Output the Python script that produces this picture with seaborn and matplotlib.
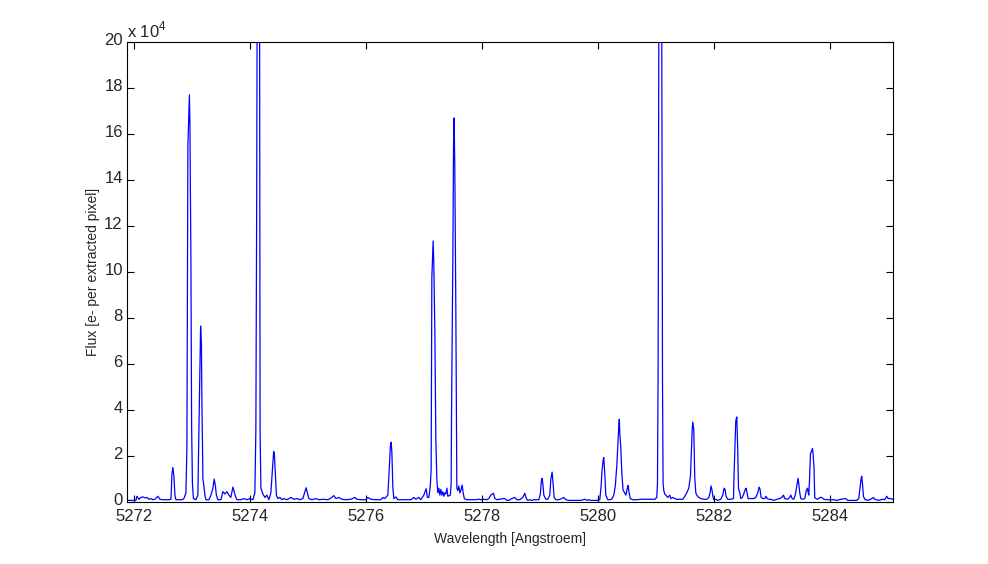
import matplotlib
matplotlib.use("Agg")
import matplotlib.pyplot as plt
import matplotlib.transforms as mtransforms
import seaborn as sns
import pandas as pd

# spectrum (wavelength in Angstroem, flux in units of 1e4 e-)
wavelength = [
    5271.621, 5272.034, 5272.052, 5272.086, 5272.121, 5272.155, 5272.190, 5272.224,
    5272.259, 5272.293, 5272.328, 5272.362, 5272.414, 5272.448, 5272.500, 5272.552,
    5272.603, 5272.638, 5272.647, 5272.655, 5272.672, 5272.690, 5272.707, 5272.724,
    5272.776, 5272.828, 5272.862, 5272.897, 5272.914, 5272.931, 5272.957, 5272.966,
    5272.983, 5272.995, 5273.009, 5273.026, 5273.069, 5273.103, 5273.126, 5273.143,
    5273.150, 5273.164, 5273.172, 5273.190, 5273.207, 5273.224, 5273.241, 5273.293,
    5273.328, 5273.362, 5273.384, 5273.405, 5273.422, 5273.448, 5273.500, 5273.534,
    5273.569, 5273.603, 5273.638, 5273.672, 5273.707, 5273.724, 5273.750, 5273.776,
    5273.845, 5273.897, 5273.948, 5274.000, 5274.052, 5274.086, 5274.103, 5274.117,
    5274.133, 5274.164, 5274.176, 5274.190, 5274.224, 5274.259, 5274.293, 5274.328,
    5274.362, 5274.388, 5274.410, 5274.422, 5274.440, 5274.457, 5274.483, 5274.517,
    5274.552, 5274.586, 5274.638, 5274.707, 5274.759, 5274.810, 5274.862, 5274.914,
    5274.948, 5274.971, 5274.991, 5275.017, 5275.069, 5275.138, 5275.190, 5275.259,
    5275.345, 5275.414, 5275.448, 5275.483, 5275.534, 5275.586, 5275.655, 5275.741,
    5275.810, 5275.845, 5275.914, 5276.000, 5276.034, 5276.086, 5276.172, 5276.259,
    5276.293, 5276.328, 5276.379, 5276.405, 5276.422, 5276.436, 5276.448, 5276.466,
    5276.483, 5276.517, 5276.552, 5276.603, 5276.690, 5276.776, 5276.828, 5276.862,
    5276.914, 5276.948, 5277.000, 5277.040, 5277.060, 5277.086, 5277.112, 5277.126,
    5277.138, 5277.160, 5277.172, 5277.190, 5277.207, 5277.224, 5277.241, 5277.259,
    5277.276, 5277.293, 5277.310, 5277.328, 5277.345, 5277.362, 5277.379, 5277.397,
    5277.414, 5277.457, 5277.471, 5277.478, 5277.500, 5277.512, 5277.522, 5277.534,
    5277.552, 5277.569, 5277.586, 5277.603, 5277.621, 5277.638, 5277.660, 5277.678,
    5277.698, 5277.741, 5277.810, 5277.897, 5277.948, 5277.983, 5278.034, 5278.086,
    5278.121, 5278.155, 5278.202, 5278.224, 5278.259, 5278.310, 5278.362, 5278.397,
    5278.431, 5278.466, 5278.517, 5278.569, 5278.603, 5278.655, 5278.707, 5278.741,
    5278.767, 5278.793, 5278.828, 5278.862, 5278.897, 5278.948, 5278.983, 5279.009,
    5279.026, 5279.040, 5279.052, 5279.069, 5279.103, 5279.138, 5279.172, 5279.190,
    5279.212, 5279.229, 5279.247, 5279.276, 5279.328, 5279.379, 5279.414, 5279.448,
    5279.500, 5279.621, 5279.707, 5279.776, 5279.810, 5279.845, 5279.879, 5279.983,
    5280.034, 5280.057, 5280.074, 5280.091, 5280.103, 5280.121, 5280.138, 5280.172,
    5280.207, 5280.241, 5280.276, 5280.302, 5280.328, 5280.345, 5280.362, 5280.371,
    5280.379, 5280.397, 5280.414, 5280.436, 5280.453, 5280.483, 5280.509, 5280.522,
    5280.540, 5280.560, 5280.603, 5280.672, 5280.741, 5280.828, 5280.914, 5280.983,
    5281.017, 5281.029, 5281.040, 5281.060, 5281.095, 5281.116, 5281.126, 5281.138,
    5281.155, 5281.172, 5281.190, 5281.207, 5281.241, 5281.259, 5281.293, 5281.328,
    5281.362, 5281.414, 5281.466, 5281.500, 5281.534, 5281.569, 5281.598, 5281.616,
    5281.629, 5281.638, 5281.655, 5281.672, 5281.690, 5281.707, 5281.741, 5281.776,
    5281.828, 5281.879, 5281.914, 5281.936, 5281.953, 5281.971, 5281.988, 5282.000,
    5282.034, 5282.069, 5282.121, 5282.155, 5282.178, 5282.195, 5282.212, 5282.241,
    5282.293, 5282.340, 5282.350, 5282.367, 5282.379, 5282.397, 5282.414, 5282.426,
    5282.448, 5282.466, 5282.491, 5282.517, 5282.543, 5282.557, 5282.574, 5282.591,
    5282.638, 5282.690, 5282.724, 5282.759, 5282.781, 5282.798, 5282.816, 5282.845,
    5282.879, 5282.902, 5282.922, 5282.948, 5282.983, 5283.034, 5283.086, 5283.138,
    5283.172, 5283.202, 5283.224, 5283.276, 5283.310, 5283.328, 5283.353, 5283.379,
    5283.405, 5283.422, 5283.440, 5283.453, 5283.466, 5283.483, 5283.500, 5283.534,
    5283.569, 5283.595, 5283.616, 5283.629, 5283.638, 5283.650, 5283.667, 5283.684,
    5283.702, 5283.712, 5283.729, 5283.741, 5283.759, 5283.793, 5283.833, 5283.862,
    5283.897, 5283.948, 5284.017, 5284.069, 5284.121, 5284.190, 5284.276, 5284.310,
    5284.397, 5284.466, 5284.500, 5284.522, 5284.540, 5284.552, 5284.564, 5284.581,
    5284.603, 5284.655, 5284.707, 5284.753, 5284.776, 5284.845, 5284.914, 5284.948,
    5284.983, 5285.009, 5285.052, 5285.103,
]
flux_1e4 = [
    0.07, 0.07, 0.25, 0.12, 0.20, 0.22, 0.18, 0.20,
    0.12, 0.15, 0.10, 0.12, 0.25, 0.12, 0.10, 0.10,
    0.10, 0.12, 0.60, 1.20, 1.50, 1.10, 0.30, 0.10,
    0.10, 0.10, 0.15, 0.40, 2.40, 15.5, 17.7, 16.4,
    10.4, 3.30, 0.80, 0.15, 0.10, 0.30, 4.00, 7.00,
    7.65, 6.90, 4.50, 1.00, 0.70, 0.30, 0.10, 0.10,
    0.30, 0.60, 1.00, 0.70, 0.30, 0.10, 0.10, 0.45,
    0.35, 0.45, 0.30, 0.20, 0.65, 0.50, 0.25, 0.10,
    0.10, 0.15, 0.10, 0.15, 0.10, 0.40, 3.10, 12.8,
    30.0, 28.0, 3.00, 0.60, 0.35, 0.20, 0.30, 0.10,
    0.40, 1.40, 2.20, 2.10, 1.20, 0.30, 0.15, 0.20,
    0.10, 0.15, 0.10, 0.20, 0.12, 0.15, 0.10, 0.15,
    0.45, 0.62, 0.40, 0.15, 0.10, 0.15, 0.10, 0.12,
    0.10, 0.20, 0.28, 0.15, 0.20, 0.12, 0.10, 0.12,
    0.20, 0.12, 0.10, 0.10, 0.20, 0.12, 0.10, 0.10,
    0.20, 0.15, 0.30, 1.50, 2.40, 2.60, 2.20, 0.60,
    0.15, 0.22, 0.10, 0.10, 0.10, 0.10, 0.20, 0.12,
    0.20, 0.10, 0.30, 0.58, 0.20, 0.20, 0.70, 1.43,
    9.75, 11.35, 10.35, 7.36, 2.70, 1.00, 0.40, 0.60,
    0.30, 0.55, 0.30, 0.45, 0.25, 0.40, 0.35, 0.60,
    0.25, 0.30, 0.80, 4.00, 10.6, 15.5, 16.7, 14.5,
    8.20, 0.60, 0.50, 0.70, 0.40, 0.50, 0.74, 0.40,
    0.15, 0.10, 0.10, 0.10, 0.12, 0.10, 0.12, 0.10,
    0.15, 0.30, 0.38, 0.15, 0.10, 0.12, 0.15, 0.15,
    0.07, 0.07, 0.15, 0.20, 0.10, 0.10, 0.20, 0.38,
    0.15, 0.07, 0.10, 0.07, 0.10, 0.10, 0.10, 0.35,
    0.90, 1.03, 0.80, 0.30, 0.12, 0.12, 0.30, 1.00,
    1.30, 0.80, 0.20, 0.10, 0.10, 0.15, 0.20, 0.10,
    0.07, 0.07, 0.07, 0.12, 0.07, 0.10, 0.07, 0.07,
    0.10, 0.70, 1.40, 1.80, 1.93, 1.20, 0.30, 0.10,
    0.10, 0.12, 0.30, 0.70, 1.60, 2.50, 3.30, 3.60,
    3.00, 2.36, 1.27, 0.50, 0.45, 0.30, 0.60, 0.72,
    0.40, 0.15, 0.10, 0.10, 0.12, 0.12, 0.12, 0.12,
    0.20, 0.80, 5.70, 30.0, 30.0, 5.00, 0.80, 0.50,
    0.35, 0.30, 0.25, 0.20, 0.30, 0.15, 0.20, 0.15,
    0.12, 0.12, 0.12, 0.25, 0.40, 0.60, 1.13, 2.36,
    3.20, 3.48, 3.16, 1.06, 0.40, 0.30, 0.20, 0.15,
    0.12, 0.12, 0.20, 0.40, 0.70, 0.50, 0.20, 0.10,
    0.12, 0.07, 0.12, 0.30, 0.60, 0.55, 0.25, 0.12,
    0.12, 0.15, 1.20, 2.60, 3.52, 3.70, 2.20, 0.60,
    0.40, 0.15, 0.20, 0.35, 0.55, 0.60, 0.40, 0.15,
    0.15, 0.15, 0.20, 0.40, 0.65, 0.55, 0.20, 0.15,
    0.15, 0.25, 0.15, 0.12, 0.12, 0.07, 0.12, 0.15,
    0.20, 0.30, 0.15, 0.12, 0.20, 0.30, 0.15, 0.12,
    0.30, 0.55, 0.80, 1.03, 0.80, 0.40, 0.15, 0.12,
    0.15, 0.50, 0.60, 0.40, 0.30, 0.90, 2.10, 2.20,
    2.33, 2.10, 1.50, 0.20, 0.15, 0.12, 0.20, 0.20,
    0.12, 0.10, 0.10, 0.10, 0.07, 0.12, 0.15, 0.07,
    0.07, 0.07, 0.15, 0.60, 1.00, 1.12, 0.80, 0.25,
    0.12, 0.07, 0.12, 0.20, 0.12, 0.07, 0.12, 0.10,
    0.25, 0.15, 0.15, 0.10,
]
x_ticks = [5272, 5274, 5276, 5278, 5280, 5282, 5284]
y_ticks = [0, 2, 4, 6, 8, 10, 12, 14, 16, 18, 20]

sns.set_theme(style="ticks")
plt.rcParams["font.family"] = ["Liberation Sans", "DejaVu Sans"]
plt.rcParams["xtick.direction"] = "in"
plt.rcParams["ytick.direction"] = "in"

df = pd.DataFrame({"wavelength": wavelength, "flux": flux_1e4})

fig = plt.figure(figsize=(9.88, 5.64), dpi=100)
ax = fig.add_axes([0.1285, 0.1099, 0.7753, 0.8156])
sns.lineplot(data=df, x="wavelength", y="flux", ax=ax, color="#0000FF",
             linewidth=0.9, sort=False, estimator=None)

ax.set_xlim(5271.88, 5285.09)
ax.set_ylim(0, 20)
ax.set_xticks(x_ticks)
ax.set_yticks(y_ticks)
ax.tick_params(top=True, right=True, length=5, width=0.8, labelsize=12, color="black")
ax.tick_params(axis="x", pad=5)
ax.tick_params(axis="y", pad=3)
for s in ax.spines.values():
    s.set_visible(True)
    s.set_color("black")
    s.set_linewidth(0.8)

# y tick labels sit a touch above their ticks, as in the MATLAB original
lift = mtransforms.ScaledTranslation(0, 2 / 72, fig.dpi_scale_trans)
for lab in ax.get_yticklabels():
    lab.set_transform(lab.get_transform() + lift)

ax.set_xlabel("Wavelength [Angstroem]", fontsize=10, labelpad=6)
ax.set_ylabel("Flux [e- per extracted pixel]", fontsize=10, labelpad=3)
ax.text(0.0, 1.003, r"x 10$^{\mathregular{4}}$", transform=ax.transAxes,
        fontsize=12, ha="left", va="bottom")

fig.savefig("out.png", dpi=100, facecolor="white")
